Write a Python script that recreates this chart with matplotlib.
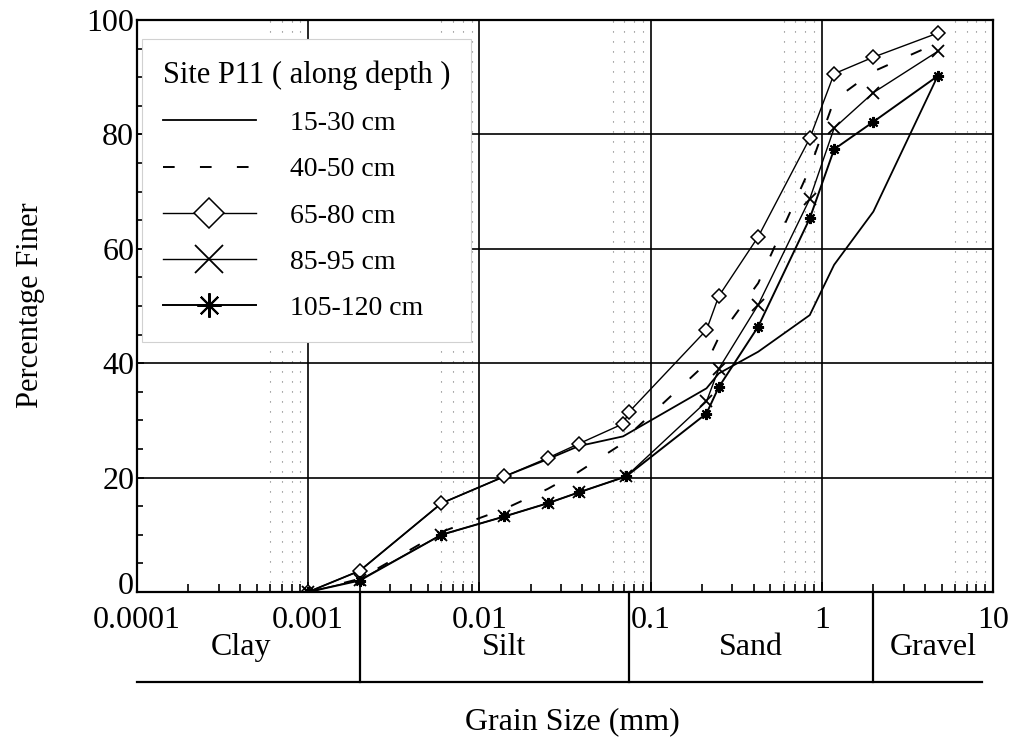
import numpy as np
import matplotlib
matplotlib.use('Agg')
import matplotlib.pyplot as plt
import matplotlib.ticker as mticker
import matplotlib.transforms as mtransforms

plt.rcParams['font.family'] = ['Liberation Serif', 'DejaVu Serif']

# grain sizes (mm)
size_a = [0.001, 0.002, 0.006, 0.014, 0.025, 0.038, 0.069, 0.212, 0.25, 0.425, 0.85, 1.18, 2.0, 4.75]
size_b = [0.001, 0.002, 0.006, 0.014, 0.025, 0.038, 0.069, 0.075, 0.212, 0.25, 0.425, 0.85, 1.18, 2.0, 4.75]
size_c = [0.001, 0.002, 0.006, 0.014, 0.025, 0.038, 0.072, 0.212, 0.25, 0.425, 0.85, 1.18, 2.0, 4.75]

# percentage finer for each depth
p15_30 = [0, 3.7, 15.5, 20.2, 23.2, 25.5, 27.2, 35.6, 38.2, 42.0, 48.4, 57.2, 66.5, 90.2]
p40_50 = [0, 2.3, 10.5, 14.5, 18.0, 21.0, 26.0, 27.5, 40.0, 44.5, 54.0, 74.0, 86.0, 91.0, 96.0]
p65_80 = [0, 3.7, 15.5, 20.2, 23.4, 25.9, 29.4, 31.5, 45.8, 51.7, 62.1, 79.3, 90.6, 93.5, 97.7]
p85_95 = [0, 2.1, 10.0, 13.2, 15.5, 17.4, 20.2, 33.3, 39.0, 50.2, 68.7, 81.1, 87.3, 94.5]
p105_120 = [0, 2.0, 10.0, 13.2, 15.5, 17.4, 20.2, 31.2, 35.8, 46.4, 65.3, 77.4, 82.2, 90.2]

labels = ['15-30 cm', '40-50 cm', '65-80 cm', '85-95 cm', '105-120 cm']

# soil classes and their limits (mm)
classes = ['Clay', 'Silt', 'Sand', 'Gravel']
class_limits = [0.0001, 0.002, 0.075, 2.0, 10.0]
class_nudge = [-7, 10, 0, 0]   # px shift of the class names

xticks = [0.0001, 0.001, 0.01, 0.1, 1, 10]
xticklabels = ['0.0001', '0.001', '0.01', '0.1', '1', '10']

fig = plt.figure(figsize=(10.13, 7.48), dpi=100)
ax = fig.add_axes([0.1352, 0.2086, 0.8451, 0.7647])

# faint dotted minor grid (6..9 of each decade), as on the scan
for dec in [1e-4, 1e-3, 1e-2, 1e-1, 1]:
    for m in [6, 7, 8, 9]:
        ax.axvline(dec * m, color='0.45', lw=0.8, ls=(0, (1, 8)), zorder=0.5)

ax.plot(size_a, p15_30, color='k', lw=1.3, label=labels[0])
ax.plot(size_b, p40_50, color='k', lw=1.4, dashes=(6, 13), label=labels[1])
ax.plot(size_b, p65_80, color='k', lw=1.0, marker='D', ms=7, mfc='white',
        mec='k', mew=1.1, label=labels[2])
ax.plot(size_c, p85_95, color='k', lw=1.0, marker='x', ms=9, mew=1.3,
        label=labels[3])
ax.plot(size_c, p105_120, color='k', lw=1.4, marker=(8, 2, 0), ms=8, mew=1.5,
        label=labels[4])

ax.set_xscale('log')
ax.set_xlim(1e-4, 10)
ax.set_ylim(0, 100)
ax.set_xticks(xticks)
ax.set_xticklabels(xticklabels)
ax.xaxis.set_minor_locator(mticker.LogLocator(base=10, subs=np.arange(2, 10)))
ax.xaxis.set_minor_formatter(mticker.NullFormatter())
ax.set_yticks([0, 20, 40, 60, 80, 100])
ax.yaxis.set_minor_locator(mticker.MultipleLocator(5))

ax.tick_params(which='both', direction='in', top=False, right=False,
               labelsize=23, colors='k')
ax.tick_params(axis='x', which='major', length=7, width=1.2, pad=10)
ax.tick_params(axis='x', which='minor', length=6, width=1.2)
ax.tick_params(axis='y', which='major', length=5, width=1.2, pad=2)
ax.tick_params(axis='y', which='minor', length=4, width=1.2)

# the "0" sits a little above the axis on the original
zero_lab = ax.get_yticklabels()[0]
zero_lab.set_transform(zero_lab.get_transform()
                       + mtransforms.ScaledTranslation(0, 0.09, fig.dpi_scale_trans))

ax.grid(which='major', color='k', lw=1.2)
ax.set_axisbelow(True)
for sp in ax.spines.values():
    sp.set_linewidth(1.6)

leg = ax.legend(loc='upper left', bbox_to_anchor=(0.006, 0.966), borderaxespad=0,
                title='Site P11 ( along depth )', title_fontsize=22, fontsize=20,
                alignment='left', borderpad=0.75, handlelength=3.35,
                handletextpad=1.22, labelspacing=0.75, markerscale=2.2,
                fancybox=False, framealpha=1, facecolor='white', edgecolor='0.82')
leg.get_frame().set_linewidth(0.8)

# classification strip below the axis
trans = mtransforms.blended_transform_factory(ax.transData, ax.transAxes)
strip_y = -0.157
for lim in class_limits[1:-1]:
    ax.plot([lim, lim], [0, strip_y], color='k', lw=1.6, transform=trans, clip_on=False)
ax.plot([0, 0.987], [strip_y, strip_y], color='k', lw=1.6, transform=ax.transAxes, clip_on=False)
for i, name in enumerate(classes):
    xc = np.sqrt(class_limits[i] * class_limits[i + 1])
    tt = trans + mtransforms.ScaledTranslation(class_nudge[i] / 100, 0, fig.dpi_scale_trans)
    ax.text(xc, -0.097, name, transform=tt, ha='center', va='center', fontsize=23)

fig.text(0.565, 0.035, 'Grain Size (mm)', ha='center', va='center', fontsize=23)
fig.text(0.030, 0.592, 'Percentage Finer', ha='center', va='center',
         rotation=90, fontsize=22)

fig.savefig('out.png', dpi=100)
